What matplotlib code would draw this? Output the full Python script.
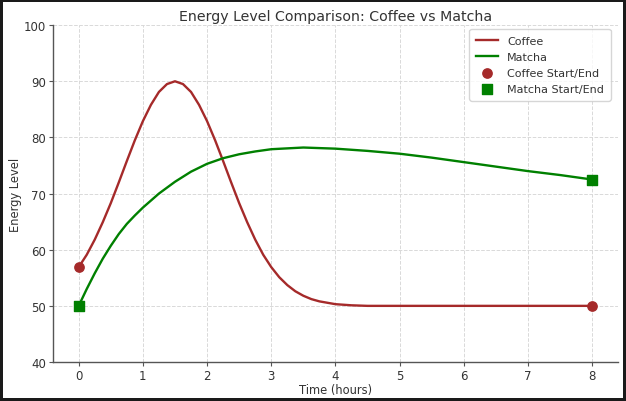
import matplotlib
matplotlib.use("Agg")
import matplotlib.pyplot as plt

# hours and energy readings
coffee_t = [0, 0.125, 0.25, 0.375, 0.5, 0.625, 0.75, 0.875, 1.0, 1.125, 1.25, 1.375,
            1.5, 1.625, 1.75, 1.875, 2.0, 2.125, 2.25, 2.375, 2.5, 2.625, 2.75, 2.875,
            3.0, 3.125, 3.25, 3.375, 3.5, 3.625, 3.75, 4.0, 4.25, 4.5, 5, 6, 7, 8]
coffee_e = [56.9, 59.1, 61.8, 64.9, 68.3, 72.0, 75.8, 79.5, 82.9, 85.8, 88.1, 89.5,
            90.0, 89.5, 88.1, 85.8, 82.9, 79.5, 75.8, 72.0, 68.3, 64.9, 61.8, 59.1,
            56.9, 55.1, 53.7, 52.6, 51.8, 51.2, 50.8, 50.3, 50.1, 50.0, 50, 50, 50, 50]

matcha_t = [0, 0.125, 0.25, 0.375, 0.5, 0.625, 0.75, 0.875, 1.0, 1.25, 1.5, 1.75,
            2.0, 2.25, 2.5, 2.75, 3.0, 3.5, 4.0, 4.5, 5.0, 5.5, 6.0, 6.5, 7.0, 7.5, 8.0]
matcha_e = [50.0, 53.0, 55.8, 58.4, 60.7, 62.8, 64.6, 66.1, 67.5, 70.0, 72.1, 73.9,
            75.3, 76.3, 77.0, 77.5, 77.9, 78.2, 78.0, 77.6, 77.1, 76.4, 75.6, 74.8,
            74.0, 73.3, 72.5]

coffee_ends = ([0, 8], [56.9, 50.0])
matcha_ends = ([0, 8], [50.0, 72.5])

text_c = "#333333"

fig = plt.figure(figsize=(6.26, 4.02), dpi=100)
fig.patch.set_edgecolor("#1a1a1a")
fig.patch.set_linewidth(3)
ax = fig.add_axes([0.0847, 0.097, 0.9023, 0.838])

ax.plot(coffee_t, coffee_e, color="brown", lw=1.7, label="Coffee")
ax.plot(matcha_t, matcha_e, color="green", lw=1.7, label="Matcha")
ax.scatter(*coffee_ends, color="brown", marker="o", s=45, zorder=3, label="Coffee Start/End")
ax.scatter(*matcha_ends, color="green", marker="s", s=45, zorder=3, label="Matcha Start/End")

ax.set_xlim(-0.4, 8.4)
ax.set_ylim(40, 100)
ax.set_xticks(range(0, 9))
ax.set_yticks(range(40, 101, 10))

ax.set_title("Energy Level Comparison: Coffee vs Matcha", fontsize=10.2, color=text_c, pad=4)
ax.set_xlabel("Time (hours)", fontsize=8.3, color=text_c, labelpad=0.5)
ax.set_ylabel("Energy Level", fontsize=8.3, color=text_c, labelpad=1)

ax.grid(True, linestyle="--", color="#d9d9d9", linewidth=0.7)
ax.set_axisbelow(True)
for side in ("top", "right"):
    ax.spines[side].set_visible(False)
for side in ("left", "bottom"):
    ax.spines[side].set_color("#555555")
    ax.spines[side].set_linewidth(1.0)
ax.tick_params(labelsize=8.5, colors=text_c, length=3, width=0.8, pad=2)
ax.tick_params(axis="both", color="#555555")

leg = ax.legend(loc="upper right", bbox_to_anchor=(0.997, 1.005), fontsize=8,
                frameon=True, borderpad=0.6, handlelength=2.0, labelspacing=0.55)
leg.get_frame().set_edgecolor("#cccccc")
for t in leg.get_texts():
    t.set_color(text_c)

fig.savefig("out.png", dpi=100, edgecolor=fig.get_edgecolor())
